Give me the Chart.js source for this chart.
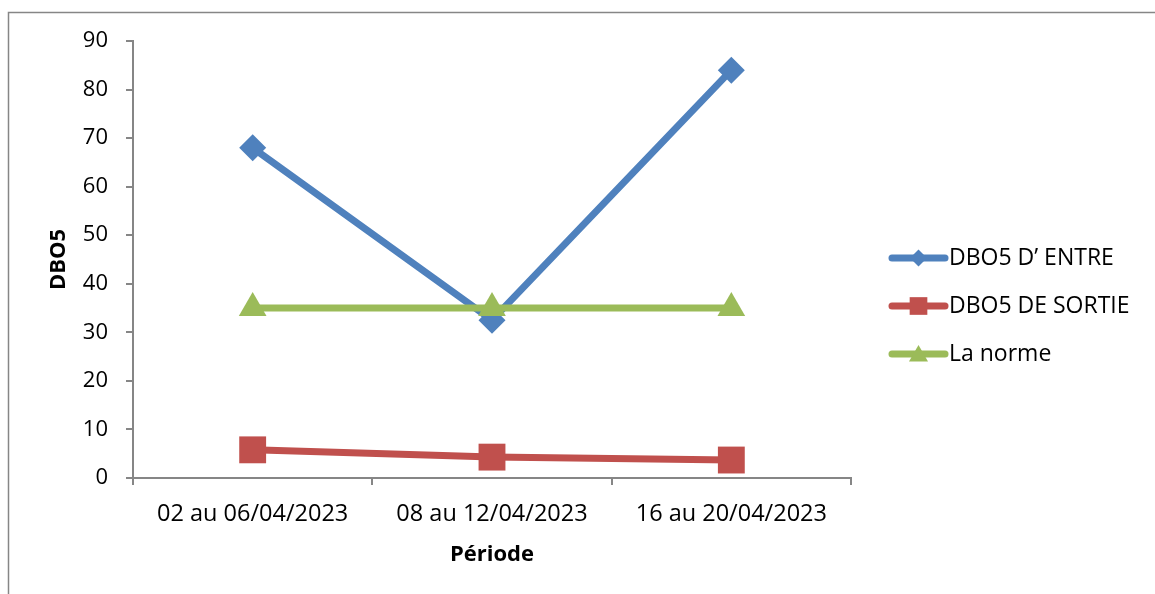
<!DOCTYPE html>
<html>
<head>
<meta charset="utf-8">
<script src="https://cdn.jsdelivr.net/npm/chart.js@4/dist/chart.umd.min.js"></script>
<style>
  html, body { margin: 0; padding: 0; background: #ffffff; }
  #wrap { width: 1155px; height: 594px; position: relative; }
  canvas { display: block; }
</style>
</head>
<body>
<div id="wrap"><canvas id="c" width="1155" height="594"></canvas></div>
<script>
// Periods (x categories)
const periods = ['02 au 06/04/2023', '08 au 12/04/2023', '16 au 20/04/2023'];
// DBO5 at the inlet, at the outlet, and the regulatory limit
const dboEntree = [68, 32.5, 84];
const dboSortie = [5.8, 4.3, 3.7];
const norme = [35, 35, 35];
// Series names
const seriesNames = ['DBO5 D\u2019 ENTRE', 'DBO5 DE SORTIE', 'La norme'];
// Y-axis range and step
const yMin = 0, yMax = 90, yStep = 10;

const FONT = '"Open Sans", "Liberation Sans", sans-serif';
const AXIS = '#868686';
const BLUE = '#4F81BD', RED = '#C0504D', GREEN = '#9BBB59';

// Outer frame around the chart
const framePlugin = {
  id: 'frame',
  beforeDraw(chart) {
    const ctx = chart.ctx;
    ctx.save();
    ctx.strokeStyle = AXIS;
    ctx.lineWidth = 1.5;
    ctx.strokeRect(8.5, 12.5, 1400, 800);
    ctx.restore();
  }
};

// Right-hand legend: line sample with marker, then series name
function drawMarker(ctx, style, x, y, r) {
  ctx.beginPath();
  if (style === 'rectRot') {
    ctx.moveTo(x, y - r); ctx.lineTo(x + r, y); ctx.lineTo(x, y + r); ctx.lineTo(x - r, y);
  } else if (style === 'rect') {
    const s = r * Math.SQRT1_2;
    ctx.rect(x - s, y - s, 2 * s, 2 * s);
  } else if (style === 'triangle') {
    ctx.moveTo(x, y - r);
    ctx.lineTo(x + r * Math.sin(2 * Math.PI / 3), y + r / 2);
    ctx.lineTo(x - r * Math.sin(2 * Math.PI / 3), y + r / 2);
  }
  ctx.closePath();
  ctx.fill();
}
const legendPlugin = {
  id: 'sideLegend',
  afterDraw(chart) {
    const ctx = chart.ctx;
    const sizes = { rectRot: 8.5, rect: 12.5, triangle: 11 };
    const x0 = 892, x1 = 945, tx = 949;
    const rows = [258, 306, 354];
    ctx.save();
    chart.data.datasets.forEach((ds, i) => {
      const y = rows[i];
      ctx.strokeStyle = ds.borderColor;
      ctx.fillStyle = ds.borderColor;
      ctx.lineWidth = 7;
      ctx.lineCap = 'round';
      ctx.beginPath(); ctx.moveTo(x0, y); ctx.lineTo(x1, y); ctx.stroke();
      drawMarker(ctx, ds.pointStyle, (x0 + x1) / 2, y + (ds.pointStyle === 'triangle' ? 2 : 0), sizes[ds.pointStyle]);
      ctx.fillStyle = '#000';
      ctx.font = '23px ' + FONT;
      ctx.textBaseline = 'middle';
      ctx.textAlign = 'left';
      ctx.fillText(ds.label, tx, y);
    });
    ctx.restore();
  }
};

new Chart(document.getElementById('c'), {
  type: 'line',
  data: {
    labels: periods,
    datasets: [
      { label: seriesNames[0], data: dboEntree, borderColor: BLUE, backgroundColor: BLUE,
        pointStyle: 'rectRot', pointRadius: 13.5, order: 3 },
      { label: seriesNames[1], data: dboSortie, borderColor: RED, backgroundColor: RED,
        pointStyle: 'rect', pointRadius: 19, order: 2 },
      { label: seriesNames[2], data: norme, borderColor: GREEN, backgroundColor: GREEN,
        pointStyle: 'triangle', pointRadius: 16, order: 1 }
    ].map(d => Object.assign({ borderWidth: 7, pointBorderWidth: 0, tension: 0, fill: false,
      pointHoverRadius: d.pointRadius }, d))
  },
  options: {
    responsive: false,
    animation: false,
    events: [],
    layout: { padding: { left: 46, top: 41, right: 304, bottom: 26 } },
    plugins: { legend: { display: false }, tooltip: { enabled: false } },
    scales: {
      x: {
        offset: true,
        grid: { offset: true, drawOnChartArea: false, drawTicks: true, tickLength: 7, color: AXIS, lineWidth: 2 },
        border: { display: true, color: AXIS, width: 2 },
        ticks: { color: '#000', font: { family: FONT, size: 23.5 }, padding: 15, maxRotation: 0 },
        title: { display: true, text: 'P\u00e9riode', color: '#000', font: { family: FONT, size: 22, weight: 'bold' }, padding: 0 },
        afterFit(s) { s.height = 90; }
      },
      y: {
        min: yMin, max: yMax,
        grid: { drawOnChartArea: false, drawTicks: true, tickLength: 7, color: AXIS, lineWidth: 2 },
        border: { display: true, color: AXIS, width: 2 },
        ticks: { stepSize: yStep, color: '#000', font: { family: FONT, size: 22 }, padding: 18 },
        title: { display: true, text: 'DBO5', color: '#000', font: { family: FONT, size: 22, weight: 'bold' }, padding: 0 },
        afterFit(s) { s.width = 87; }
      }
    }
  },
  plugins: [framePlugin, legendPlugin]
});
</script>
</body>
</html>
